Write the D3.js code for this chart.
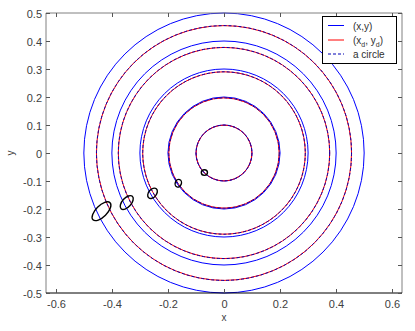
<!DOCTYPE html>
<html>
<head>
<meta charset="utf-8">
<script src="https://cdn.jsdelivr.net/npm/d3@7"></script>
<style>
body { margin: 0; background: #fff; }
text { font-family: "Liberation Sans", Arial, sans-serif; }
</style>
</head>
<body>
<div id="chart"></div>
<script>
// circle radii (x,y) and distorted (xd,yd)
var blueRadii = [0.1, 0.2, 0.3, 0.4, 0.5];
var redRadii = [0.0996, 0.197, 0.29, 0.377, 0.455];
// small ellipses
var ellCx = [-0.070, -0.163, -0.255, -0.347, -0.437];
var ellCy = [-0.070, -0.108, -0.144, -0.177, -0.208];
var ellA = [0.011, 0.014, 0.021, 0.030, 0.043];
var ellB = [0.010, 0.011, 0.014, 0.016, 0.020];
var ellAngle = [0, 70, 50, 48, 45];
var xTicks = [-0.6, -0.4, -0.2, 0, 0.2, 0.4, 0.6];
var yTicks = [-0.5, -0.4, -0.3, -0.2, -0.1, 0, 0.1, 0.2, 0.3, 0.4, 0.5];
var legendLabels = ["(x,y)", "(x_d, y_d)", "a circle"];

var w = 415, h = 331;
var mLeft = 46, mRight = 402, mTop = 13, mBottom = 293;

var svg = d3.select("#chart").append("svg").attr("width", w).attr("height", h);

var x = d3.scaleLinear().domain([-0.635, 0.635]).range([mLeft, mRight]);
var y = d3.scaleLinear().domain([-0.5, 0.5]).range([mBottom, mTop]);

function fmt(t) {
	return t === 0 ? "0" : d3.format(".1f")(t).replace("\u2212", "-");
}

var plot = svg.append("g");

function drawCircles(radii, color, dash) {
	plot.selectAll(null).data(radii).enter().append("ellipse")
		.attr("cx", x(0)).attr("cy", y(0))
		.attr("rx", function(d) { return x(d) - x(0); })
		.attr("ry", function(d) { return y(0) - y(d); })
		.attr("fill", "none").attr("stroke", color).attr("stroke-width", 1)
		.attr("stroke-dasharray", dash);
}
drawCircles(blueRadii, "#0000ff", null);
drawCircles(redRadii, "#ff0000", null);
drawCircles(redRadii, "#0000b4", "3,2");

plot.selectAll(null).data(ellCx).enter().append("ellipse")
	.attr("cx", function(d) { return x(d); })
	.attr("cy", function(d, i) { return y(ellCy[i]); })
	.attr("rx", function(d, i) { return x(ellA[i]) - x(0); })
	.attr("ry", function(d, i) { return y(0) - y(ellB[i]); })
	.attr("transform", function(d, i) { return "rotate(" + (-ellAngle[i]) + "," + x(d) + "," + y(ellCy[i]) + ")"; })
	.attr("fill", "none").attr("stroke", "#000").attr("stroke-width", 1.4);

// axes box
var ax = svg.append("g");
ax.append("line").attr("x1", mLeft).attr("x2", mRight).attr("y1", mTop).attr("y2", mTop).attr("stroke", "#808080");
ax.append("line").attr("x1", mRight).attr("x2", mRight).attr("y1", mTop).attr("y2", mBottom).attr("stroke", "#808080");
ax.append("line").attr("x1", mLeft).attr("x2", mLeft).attr("y1", mTop).attr("y2", mBottom).attr("stroke", "#808080");
ax.append("line").attr("x1", mLeft).attr("x2", mRight).attr("y1", mBottom).attr("y2", mBottom).attr("stroke", "#000");

var tl = 4;
xTicks.forEach(function(t) {
	var px = Math.round(x(t)) + 0.5;
	ax.append("line").attr("x1", px).attr("x2", px).attr("y1", mBottom).attr("y2", mBottom - tl).attr("stroke", "#555");
	ax.append("line").attr("x1", px).attr("x2", px).attr("y1", mTop).attr("y2", mTop + tl).attr("stroke", "#555");
	ax.append("text").attr("x", px).attr("y", mBottom + 15).attr("text-anchor", "middle")
		.attr("font-size", 11).attr("fill", "#404040").text(fmt(t));
});
yTicks.forEach(function(t) {
	var py = Math.round(y(t)) + 0.5;
	ax.append("line").attr("x1", mLeft).attr("x2", mLeft + tl).attr("y1", py).attr("y2", py).attr("stroke", "#555");
	ax.append("line").attr("x1", mRight).attr("x2", mRight - tl).attr("y1", py).attr("y2", py).attr("stroke", "#555");
	ax.append("text").attr("x", mLeft - 4).attr("y", py + 4).attr("text-anchor", "end")
		.attr("font-size", 11).attr("fill", "#404040").text(fmt(t));
});

svg.append("text").attr("x", x(0)).attr("y", 321).attr("text-anchor", "middle")
	.attr("font-size", 10).attr("fill", "#404040").text("x");
svg.append("text").attr("transform", "translate(14," + y(0) + ") rotate(-90)").attr("text-anchor", "middle")
	.attr("font-size", 10).attr("fill", "#404040").text("y");

// legend
var lg = svg.append("g");
lg.append("rect").attr("x", 322.5).attr("y", 16.5).attr("width", 74).attr("height", 47)
	.attr("fill", "#fff").attr("stroke", "#000");
var lgColors = ["#0000ff", "#ff0000", "#0000b4"];
var lgDash = [null, null, "3,2"];
var lgY = [25.5, 40, 54];
legendLabels.forEach(function(l, i) {
	lg.append("line").attr("x1", 328).attr("x2", 344).attr("y1", lgY[i]).attr("y2", lgY[i])
		.attr("stroke", lgColors[i]).attr("stroke-dasharray", lgDash[i]);
	var t = lg.append("text").attr("x", 353).attr("y", lgY[i] + 4).attr("font-size", 10).attr("fill", "#303030");
	if (i === 1) {
		t.append("tspan").text("(x");
		t.append("tspan").attr("dy", 3).attr("font-size", 7).text("d");
		t.append("tspan").attr("dy", -3).text(", y");
		t.append("tspan").attr("dy", 3).attr("font-size", 7).text("d");
		t.append("tspan").attr("dy", -3).text(")");
	} else {
		t.text(l);
	}
});
</script>
</body>
</html>
